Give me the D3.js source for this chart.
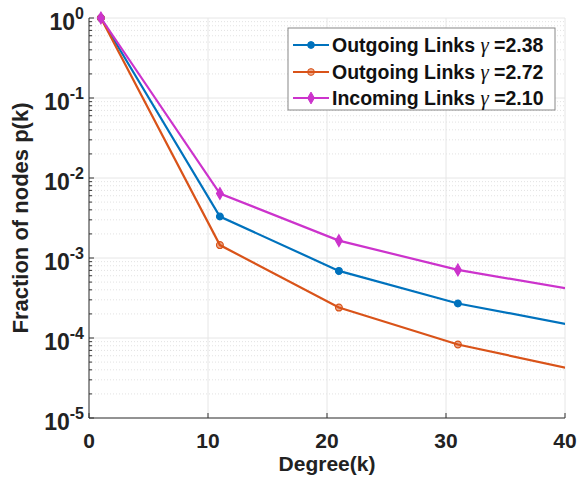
<!DOCTYPE html>
<html><head><meta charset="utf-8">
<script src="https://cdn.jsdelivr.net/npm/d3@7"></script>
<style>body{margin:0;background:#fff}svg{display:block}</style>
</head><body>
<script>
const degrees = [1, 11, 21, 31, 41];
const outA = [1, 3.3e-3, 6.9e-4, 2.7e-4, 1.41e-4];
const outB = [1, 1.45e-3, 2.4e-4, 8.3e-5, 3.96e-5];
const incoming = [1, 6.4e-3, 1.65e-3, 7.1e-4, 3.96e-4];
const seriesNames = ["Outgoing Links", "Outgoing Links", "Incoming Links"];
const gammas = ["2.38", "2.72", "2.10"];
const colors = ["#0072BD", "#D95319", "#CC33CC"];
const xTicks = [0, 10, 20, 30, 40];
const yExps = [0, -1, -2, -3, -4, -5];

const W = 578, H = 486;
const m = {l: 89, r: 13, t: 18, b: 68};
const svg = d3.select("body").append("svg").attr("width", W).attr("height", H)
  .style("font-family", "Liberation Sans, Arial, sans-serif");
const x = d3.scaleLinear().domain([0, 40]).range([m.l, W - m.r]);
const y = d3.scaleLog().domain([1e-5, 1]).range([H - m.b, m.t]);

const g = svg.append("g");
const minors = [];
for (let e = -5; e < 0; e++) for (let k = 2; k <= 9; k++) minors.push(k * Math.pow(10, e));
g.selectAll(".mn").data(minors).join("line")
  .attr("x1", m.l).attr("x2", W - m.r).attr("y1", d => y(d)).attr("y2", d => y(d))
  .attr("stroke", "#e2e2e2").attr("stroke-width", 1).attr("stroke-dasharray", "1,2");
g.selectAll(".mj").data(yExps).join("line")
  .attr("x1", m.l).attr("x2", W - m.r).attr("y1", d => y(Math.pow(10, d))).attr("y2", d => y(Math.pow(10, d)))
  .attr("stroke", "#e6e6e6");
g.selectAll(".mx").data(xTicks).join("line")
  .attr("x1", d => x(d)).attr("x2", d => x(d)).attr("y1", m.t).attr("y2", H - m.b)
  .attr("stroke", "#e6e6e6");

svg.append("line").attr("x1", m.l).attr("x2", m.l).attr("y1", m.t).attr("y2", H - m.b).attr("stroke", "#333").attr("stroke-width", 1);
svg.append("line").attr("x1", m.l).attr("x2", W - m.r).attr("y1", H - m.b).attr("y2", H - m.b).attr("stroke", "#333").attr("stroke-width", 1);
svg.selectAll(".yt").data(yExps).join("line")
  .attr("x1", m.l).attr("x2", m.l + 5).attr("y1", d => y(Math.pow(10, d))).attr("y2", d => y(Math.pow(10, d))).attr("stroke", "#333");
svg.selectAll(".ymt").data(minors).join("line")
  .attr("x1", m.l).attr("x2", m.l + 3).attr("y1", d => y(d)).attr("y2", d => y(d)).attr("stroke", "#333");
svg.selectAll(".xt").data(xTicks).join("line")
  .attr("x1", d => x(d)).attr("x2", d => x(d)).attr("y1", H - m.b).attr("y2", H - m.b - 5).attr("stroke", "#333");

const yl = svg.selectAll(".yl").data(yExps).join("text")
  .attr("x", m.l - 5).attr("y", d => y(Math.pow(10, d)) + 12)
  .attr("text-anchor", "end").attr("font-size", 23).attr("font-weight", "bold").attr("fill", "#222");
yl.append("tspan").text("10");
yl.append("tspan").attr("dy", -11).attr("font-size", 16).text(d => d);
svg.selectAll(".xl").data(xTicks).join("text")
  .attr("x", d => x(d)).attr("y", H - m.b + 30).attr("text-anchor", "middle")
  .attr("font-size", 21).attr("font-weight", "bold").attr("fill", "#222").text(d => d);
svg.append("text").attr("x", x(20)).attr("y", H - 15).attr("text-anchor", "middle")
  .attr("font-size", 21).attr("font-weight", "bold").attr("fill", "#222").text("Degree(k)");
svg.append("text").attr("transform", `translate(28,${(m.t + H - m.b) / 2}) rotate(-90)`)
  .attr("text-anchor", "middle").attr("font-size", 22).attr("font-weight", "bold").attr("fill", "#222")
  .text("Fraction of nodes p(k)");

svg.append("clipPath").attr("id", "c").append("rect").attr("x", m.l).attr("y", m.t - 8).attr("width", W - m.r - m.l).attr("height", H - m.b - m.t + 8);
const data = [outA, outB, incoming];
const line = d3.line().x((d, i) => x(degrees[i])).y(d => y(d));
const plot = svg.append("g").attr("clip-path", "url(#c)");
const sym = [d3.symbolCircle, d3.symbolCircle, d3.symbolDiamond];
const sz = [36, 36, 40];
data.forEach((s, k) => {
  plot.append("path").datum(s).attr("d", line).attr("fill", "none").attr("stroke", colors[k]).attr("stroke-width", 2.2);
  plot.selectAll(".p" + k).data(s).join("path")
    .attr("transform", (d, i) => `translate(${x(degrees[i])},${y(d)})`)
    .attr("d", d3.symbol().type(sym[k]).size(sz[k]))
    .attr("fill", colors[k]).attr("fill-opacity", k === 1 ? 0.5 : 1).attr("stroke", colors[k]).attr("stroke-width", 1.2);
});

const lg = svg.append("g");
lg.append("rect").attr("x", 288).attr("y", 28).attr("width", 267).attr("height", 82)
  .attr("fill", "#fff").attr("stroke", "#888").attr("stroke-width", 1);
const rows = [45, 72, 98];
seriesNames.forEach((n, k) => {
  lg.append("line").attr("x1", 293).attr("x2", 329).attr("y1", rows[k]).attr("y2", rows[k]).attr("stroke", colors[k]).attr("stroke-width", 2.2);
  lg.append("path").attr("transform", `translate(311,${rows[k]})`).attr("d", d3.symbol().type(sym[k]).size(sz[k]))
    .attr("fill", colors[k]).attr("fill-opacity", k === 1 ? 0.5 : 1).attr("stroke", colors[k]);
  const t = lg.append("text").attr("x", 332).attr("y", rows[k] + 7).attr("font-size", 19.5).attr("font-weight", "bold").attr("fill", "#111");
  t.append("tspan").text(n + " ");
  t.append("tspan").attr("font-family", "Liberation Serif, Times New Roman, serif").attr("font-style", "italic").attr("font-weight", "normal").attr("font-size", 21).text("γ");
  t.append("tspan").text(" =" + gammas[k]);
});
</script>
</body></html>
